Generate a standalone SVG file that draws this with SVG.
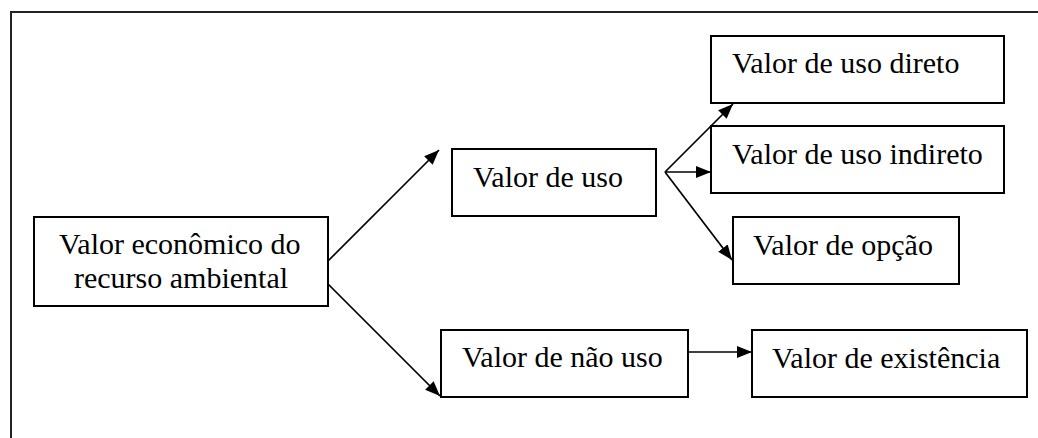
<svg xmlns="http://www.w3.org/2000/svg" width="1038" height="438" viewBox="0 0 1038 438">
<style>
.box{fill:#fff;stroke:#000;stroke-width:2}
.t{font-family:'Liberation Serif','Times New Roman',serif;font-size:30px;fill:#000}
.c{fill:none;stroke:#000;stroke-width:1.7}
.frame{fill:none;stroke:#222;stroke-width:2}
</style>
<defs>
<marker id="ah" viewBox="0 0 15 12" refX="15" refY="6" markerWidth="15" markerHeight="12" markerUnits="userSpaceOnUse" orient="auto">
<path d="M0,0 L15,6 L0,12 Z" fill="#000"/>
</marker>
</defs>
<rect width="1038" height="438" fill="#fff"/>
<path class="frame" d="M11,438 V12 H1038"/>
<g id="connectors">
<line class="c" x1="328" y1="261" x2="439" y2="150" marker-end="url(#ah)"/>
<line class="c" x1="328" y1="284" x2="440" y2="396" marker-end="url(#ah)"/>
<line class="c" x1="665" y1="172" x2="733" y2="104" marker-end="url(#ah)"/>
<line class="c" x1="665" y1="172" x2="711" y2="172" marker-end="url(#ah)"/>
<line class="c" x1="665" y1="172" x2="732" y2="260" marker-end="url(#ah)"/>
<line class="c" x1="688" y1="352" x2="752" y2="352" marker-end="url(#ah)"/>
</g>
<g id="n-main">
<rect class="box" x="34" y="217" width="294" height="89"/>
<text class="t" x="59" y="254">Valor econômico do</text>
<text class="t" x="74" y="288">recurso ambiental</text>
</g>
<g id="n-uso">
<rect class="box" x="452" y="149" width="204" height="67"/>
<text class="t" x="473" y="187">Valor de uso</text>
</g>
<g id="n-naouso">
<rect class="box" x="441" y="330" width="247" height="67"/>
<text class="t" x="462" y="367">Valor de não uso</text>
</g>
<g id="n-direto">
<rect class="box" x="711" y="36" width="293" height="67"/>
<text class="t" x="732" y="73">Valor de uso direto</text>
</g>
<g id="n-indireto">
<rect class="box" x="711" y="126" width="293" height="67"/>
<text class="t" x="732" y="164">Valor de uso indireto</text>
</g>
<g id="n-opcao">
<rect class="box" x="733" y="217" width="226" height="67"/>
<text class="t" x="753" y="255">Valor de opção</text>
</g>
<g id="n-existencia">
<rect class="box" x="752" y="330" width="275" height="67"/>
<text class="t" x="772" y="368">Valor de existência</text>
</g>
</svg>
